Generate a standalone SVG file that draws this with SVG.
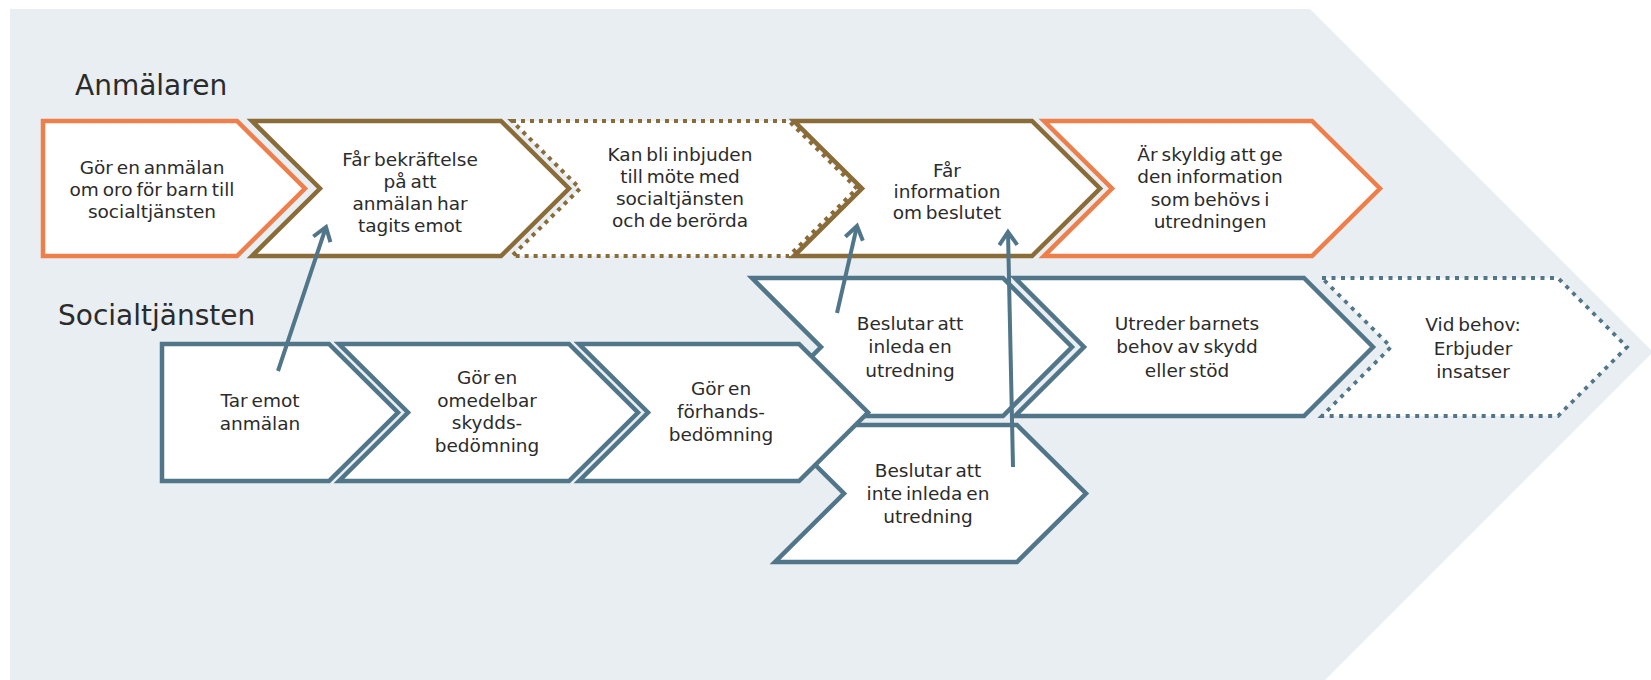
<svg xmlns="http://www.w3.org/2000/svg" width="1651" height="680" viewBox="0 0 1651 680">
<defs>
<style>
.bg{fill:#e8eef1}
.shape{fill:#ffffff;stroke-linejoin:miter}
.orange{stroke:#ee7f4b;stroke-width:4.5}
.brown{stroke:#8a6c38;stroke-width:4.5}
.brownDot{stroke:#8a6c38;stroke-width:4;stroke-dasharray:4 5}
.blue{stroke:#527689;stroke-width:4.5}
.blueDot{stroke:#527689;stroke-width:3.8;stroke-dasharray:4 5.5}
.t{font-family:"DejaVu Sans","Liberation Sans",sans-serif;font-size:18.5px;fill:#2b2b2b;text-anchor:middle;word-spacing:-2px}
.title{font-family:"DejaVu Sans","Liberation Sans",sans-serif;font-size:28px;fill:#2b2b2b}
.conn{stroke:#527689;stroke-width:4;fill:none}
</style>
<marker id="arr" markerUnits="userSpaceOnUse" markerWidth="30" markerHeight="30" viewBox="-20 -15 30 30" refX="0" refY="0" orient="auto">
<path d="M-13,-9 L0,0 L-13,9" fill="none" stroke="#527689" stroke-width="4"/>
</marker>
</defs>
<polygon class="bg" points="10,9 1310,9 1653,352 1325,680 10,680"/>
<text class="title" x="75" y="95">Anmälaren</text>
<text class="title" x="58" y="325">Socialtjänsten</text>

<g id="n1">
<polygon class="shape orange" points="43,121 237,121 305,188.5 237,256 43,256"/>
<text class="t" x="152" y="174">Gör en anmälan</text>
<text class="t" x="152" y="196">om oro för barn till</text>
<text class="t" x="152" y="218">socialtjänsten</text>
</g>
<g id="n2">
<polygon class="shape brown" points="252,121 501,121 569,188.5 501,256 252,256 320,188.5"/>
<text class="t" x="410" y="166">Får bekräftelse</text>
<text class="t" x="410" y="188">på att</text>
<text class="t" x="410" y="210">anmälan har</text>
<text class="t" x="410" y="232">tagits emot</text>
</g>
<g id="n3">
<polygon class="shape brownDot" points="512,121 789,121 857,188.5 789,256 512,256 580,188.5"/>
<text class="t" x="680" y="161">Kan bli inbjuden</text>
<text class="t" x="680" y="183">till möte med</text>
<text class="t" x="680" y="205">socialtjänsten</text>
<text class="t" x="680" y="227">och de berörda</text>
</g>
<g id="n4">
<polygon class="shape brown" points="794,121 1032,121 1100,188.5 1032,256 794,256 862,188.5"/>
<text class="t" x="947" y="177">Får</text>
<text class="t" x="947" y="198">information</text>
<text class="t" x="947" y="219">om beslutet</text>
</g>
<g id="n5">
<polygon class="shape orange" points="1044,121 1312,121 1380,188.5 1312,256 1044,256 1112,188.5"/>
<text class="t" x="1210" y="161">Är skyldig att ge</text>
<text class="t" x="1210" y="183">den information</text>
<text class="t" x="1210" y="206">som behövs i</text>
<text class="t" x="1210" y="228">utredningen</text>
</g>

<g id="n9">
<polygon class="shape blue" points="752,278 1003,278 1072,347 1003,416 752,416 821,347"/>
<text class="t" x="910" y="330">Beslutar att</text>
<text class="t" x="910" y="353">inleda en</text>
<text class="t" x="910" y="377">utredning</text>
</g>
<g id="n10">
<polygon class="shape blue" points="775,425 1017,425 1086,493.5 1017,562 775,562 844,493.5"/>
<text class="t" x="928" y="477">Beslutar att</text>
<text class="t" x="928" y="500">inte inleda en</text>
<text class="t" x="928" y="523">utredning</text>
</g>
<g id="n6">
<polygon class="shape blue" points="162,344 329,344 398,412.5 329,481 162,481"/>
<text class="t" x="260" y="407">Tar emot</text>
<text class="t" x="260" y="430">anmälan</text>
</g>
<g id="n7">
<polygon class="shape blue" points="339,344 569,344 638,412.5 569,481 339,481 408,412.5"/>
<text class="t" x="487" y="384">Gör en</text>
<text class="t" x="487" y="407">omedelbar</text>
<text class="t" x="487" y="429">skydds-</text>
<text class="t" x="487" y="452">bedömning</text>
</g>
<g id="n8">
<polygon class="shape blue" points="579,344 799,344 868,412.5 799,481 579,481 648,412.5"/>
<text class="t" x="721" y="395">Gör en</text>
<text class="t" x="721" y="418">förhands-</text>
<text class="t" x="721" y="441">bedömning</text>
</g>
<g id="n11">
<polygon class="shape blue" points="1015,278 1304,278 1373,347 1304,416 1015,416 1084,347"/>
<text class="t" x="1187" y="330">Utreder barnets</text>
<text class="t" x="1187" y="353">behov av skydd</text>
<text class="t" x="1187" y="377">eller stöd</text>
</g>
<g id="n12">
<polygon class="shape blueDot" points="1322,278 1558,278 1627,347 1558,416 1322,416 1391,347"/>
<text class="t" x="1473" y="331">Vid behov:</text>
<text class="t" x="1473" y="355">Erbjuder</text>
<text class="t" x="1473" y="378">insatser</text>
</g>

<g id="connectors">
<line class="conn" x1="278" y1="371" x2="326" y2="227" marker-end="url(#arr)"/>
<line class="conn" x1="837" y1="313" x2="857" y2="226" marker-end="url(#arr)"/>
<line class="conn" x1="1013" y1="467" x2="1008" y2="232" marker-end="url(#arr)"/>
</g>
</svg>
